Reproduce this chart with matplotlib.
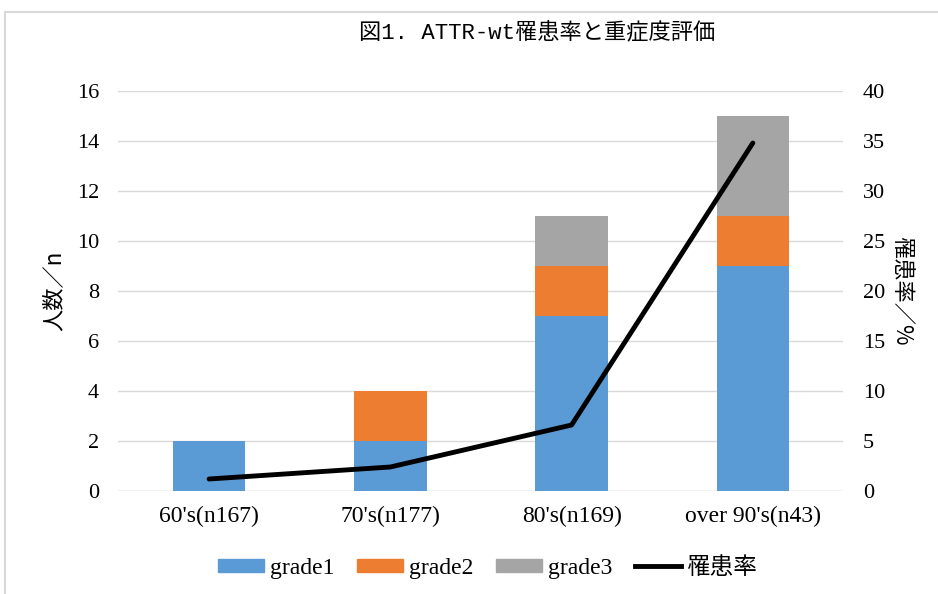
import matplotlib.pyplot as plt
import numpy as np
from matplotlib.lines import Line2D
from matplotlib.patches import Patch, Rectangle

categories = ["60's(n167)", "70's(n177)", "80's(n169)", "over 90's(n43)"]
grade1 = [2, 2, 7, 9]
grade2 = [0, 2, 2, 2]
grade3 = [0, 0, 2, 4]
rate = [1.2, 2.4, 6.6, 34.8]

colors = {'grade1': '#5b9bd5', 'grade2': '#ed7d31', 'grade3': '#a5a5a5'}
jp = ['Noto Sans CJK JP', 'DejaVu Sans']
serif = 'Liberation Serif'

fig = plt.figure(figsize=(9.38, 5.94), dpi=100)
fig.patches.append(Rectangle((0.005, -0.01), 1.2, 0.99, transform=fig.transFigure,
                             fill=False, edgecolor='#d9d9d9', lw=1.5))
ax = fig.add_axes([0.1263, 0.1734, 0.7729, 0.6734])
x = np.arange(len(categories))
w = 0.4
b1 = np.array(grade1)
b2 = b1 + np.array(grade2)
ax.bar(x, grade1, w, color=colors['grade1'], zorder=2)
ax.bar(x, grade2, w, bottom=b1, color=colors['grade2'], zorder=2)
ax.bar(x, grade3, w, bottom=b2, color=colors['grade3'], zorder=2)

ax.set_xlim(-0.5, len(categories) - 0.5)
ax.set_ylim(0, 16)
ax.set_yticks(range(0, 17, 2))
ax.set_xticks(x)
ax.set_xticklabels(categories, fontfamily=serif, fontsize=17)
for t in ax.get_yticklabels():
    t.set_fontfamily(serif)
    t.set_fontsize(16)
ax.grid(axis='y', color='#d9d9d9', lw=1, zorder=0)
ax.tick_params(length=0)
ax.tick_params(axis='x', pad=11)
ax.tick_params(axis='y', pad=14)
for s in ax.spines.values():
    s.set_visible(False)
ax.axhline(0, color='#d9d9d9', lw=1, zorder=1)
ax.set_ylabel('人数／n', fontfamily=jp, fontsize=16, labelpad=8)

ax2 = ax.twinx()
ax2.plot(x, rate, color='black', lw=3.5, solid_capstyle='round', zorder=3)
ax2.set_ylim(0, 40)
ax2.set_yticks(range(0, 41, 5))
for t in ax2.get_yticklabels():
    t.set_fontfamily(serif)
    t.set_fontsize(16)
ax2.tick_params(length=0, pad=14)
for s in ax2.spines.values():
    s.set_visible(False)
ax2.set_ylabel('罹患率／%', fontfamily=jp, fontsize=16, rotation=270, labelpad=20)

fig.text(0.573, 0.944, '図1. ATTR-wt罹患率と重症度評価', ha='center', va='center',
         fontfamily=['Liberation Mono', 'Noto Sans CJK JP'], fontsize=16)

handles = [Patch(color=colors['grade1']), Patch(color=colors['grade2']),
           Patch(color=colors['grade3']), Line2D([], [], color='black', lw=3.5)]
labels = ['grade1', 'grade2', 'grade3', '罹患率']
leg = fig.legend(handles, labels, loc='center', bbox_to_anchor=(0.52, 0.045), ncol=4,
                 frameon=False, prop={'family': [serif, 'Noto Sans CJK JP'], 'size': 17},
                 handlelength=1.95, handleheight=0.45, handletextpad=0.25, columnspacing=0.95)
leg.get_texts()[3].set_fontfamily(jp)

fig.savefig('out.png', dpi=100)
